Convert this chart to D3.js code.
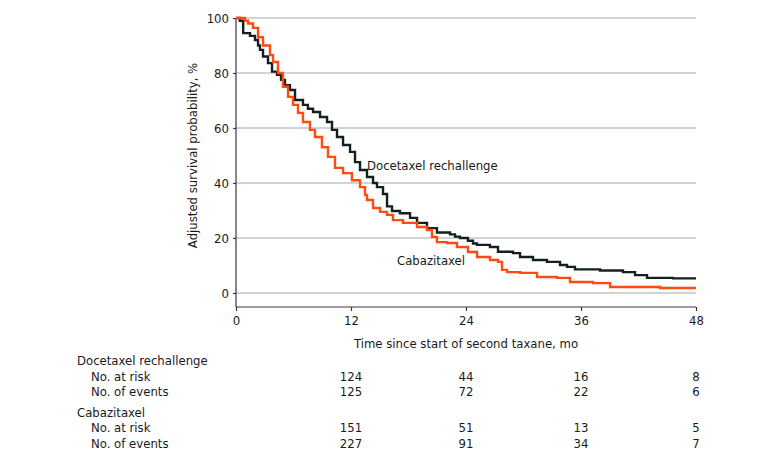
<!DOCTYPE html>
<html>
<head>
<meta charset="utf-8">
<script src="https://cdn.jsdelivr.net/npm/d3@7"></script>
<style>
  body { margin: 0; background: #fff; }
  svg text { font-family: "Liberation Sans Narrow", "DejaVu Sans Condensed", sans-serif; fill: #1a1a1a; }
</style>
</head>
<body>
<svg id="chart" width="780" height="461"></svg>
<script>
// survival curves (months, %)
const docetaxelTime = [0, 0.4, 0.75, 1.46, 1.98, 2.3, 2.5, 2.82, 3.34, 3.76, 4.28, 4.7, 5.11, 5.63, 6.16, 6.99, 7.5, 8.04, 8.77, 9.5, 10.02, 10.54, 11.17, 11.9, 12.42, 12.94, 13.67, 14.3, 14.71, 15.34, 15.76, 16.28, 17.11, 18.16, 18.89, 19.93, 20.97, 22.33, 22.85, 23.37, 24.2, 24.73, 25.15, 26.5, 27.34, 28.9, 29.64, 30.99, 32.45, 33.81, 34.54, 35.37, 37.98, 40.38, 41.64, 42.89, 45.6, 48];
const docetaxelSurv = [100, 99, 94.5, 93.5, 92, 90, 88.4, 86, 83.6, 80.5, 79.3, 77.5, 75.6, 73.8, 70.2, 68.4, 67, 65.8, 64, 62.2, 59.3, 56.7, 53.8, 51.3, 47.6, 44.7, 42.2, 40, 38.5, 36, 31.5, 29.8, 29, 27.3, 25.5, 23.6, 22, 21.3, 20.5, 20, 19, 18, 17.5, 16.7, 15, 14.5, 13.1, 12, 11.3, 10.2, 9.5, 8.6, 8.2, 7.6, 6.5, 5.5, 5.3, 5.3];

const cabazitaxelTime = [0, 0.94, 1.25, 1.77, 2.3, 2.82, 3.55, 3.86, 4.38, 4.9, 5.43, 5.95, 6.47, 6.99, 7.72, 8.24, 8.97, 9.6, 10.33, 11.17, 12.1, 12.94, 13.46, 13.67, 14.3, 15.03, 15.76, 16.38, 17.43, 18.89, 19.93, 20.45, 20.97, 22.02, 23.06, 24.21, 25.15, 26.5, 27.34, 27.76, 28.28, 29.64, 31.41, 33.5, 34.85, 37.25, 39.03, 44.25, 48];
const cabazitaxelSurv = [100, 99, 98, 96.4, 93, 90, 86.5, 84, 80, 75, 71.3, 68.4, 65.5, 62.2, 59.3, 56.7, 53, 49.5, 45.5, 43.6, 41, 38.5, 35.6, 33.8, 30.9, 29.5, 28.4, 26.5, 25.5, 24, 22.9, 20.4, 18.5, 18.2, 16.7, 14.9, 13.1, 12, 11.3, 8.4, 7.6, 7.3, 5.8, 5.5, 4, 3.6, 2.2, 1.8, 1.8];

const xTicks = [0, 12, 24, 36, 48];
const yTicks = [0, 20, 40, 60, 80, 100];

// number at risk table
const tableMonths = [12, 24, 36, 48];
const docetaxelAtRisk = [124, 44, 16, 8];
const docetaxelEvents = [125, 72, 22, 6];
const cabazitaxelAtRisk = [151, 51, 13, 5];
const cabazitaxelEvents = [227, 91, 34, 7];

const fontSize = "13px";
const svg = d3.select("#chart");

const x = d3.scaleLinear().domain([0, 48]).range([236, 696]);
const y = d3.scaleLinear().domain([-5.1, 100]).range([307, 18]);

// gridlines
svg.append("g")
  .selectAll("line")
  .data(yTicks)
  .enter()
  .append("line")
  .attr("x1", x(0))
  .attr("x2", x(48))
  .attr("y1", d => y(d))
  .attr("y2", d => y(d))
  .attr("stroke", "#c4c4c4")
  .attr("stroke-width", 1.3);

// axes
const xAxis = svg.append("g")
  .attr("transform", `translate(0,${y(-5.1)})`)
  .call(d3.axisBottom(x).tickValues(xTicks).tickSize(4).tickPadding(5));
const yAxis = svg.append("g")
  .attr("transform", `translate(${x(0)},0)`)
  .call(d3.axisLeft(y).tickValues(yTicks).tickSize(3).tickPadding(4));

[xAxis, yAxis].forEach(g => {
  g.select(".domain").attr("stroke", "#3a3a3a").attr("stroke-width", 1.2);
  g.selectAll(".tick line").attr("stroke", "#3a3a3a").attr("stroke-width", 1.2);
  g.selectAll(".tick text")
    .style("font-family", '"Liberation Sans Narrow", "DejaVu Sans Condensed", sans-serif')
    .style("font-size", fontSize)
    .attr("fill", "#1a1a1a");
});
xAxis.select(".domain").attr("d", `M${x(0)},0H${x(48)}`);
yAxis.select(".domain").attr("d", `M0,${y(100)}V${y(-5.1)}`);

svg.append("text")
  .attr("x", x(24))
  .attr("y", 343)
  .attr("dy", "0.35em")
  .attr("text-anchor", "middle")
  .style("font-size", fontSize)
  .text("Time since start of second taxane, mo");

svg.append("text")
  .attr("transform", `translate(192,${y(50)}) rotate(-90)`)
  .attr("dy", "0.35em")
  .attr("text-anchor", "middle")
  .style("font-size", fontSize)
  .text("Adjusted survival probability, %");

// curves
const line = d3.line()
  .x(d => x(d[0]))
  .y(d => y(d[1]))
  .curve(d3.curveStepAfter);

const docetaxel = d3.zip(docetaxelTime, docetaxelSurv);
const cabazitaxel = d3.zip(cabazitaxelTime, cabazitaxelSurv);

svg.append("path")
  .datum(docetaxel)
  .attr("d", line)
  .attr("fill", "none")
  .attr("stroke", "#13201f")
  .attr("stroke-width", 2.4);

svg.append("path")
  .datum(cabazitaxel)
  .attr("d", line)
  .attr("fill", "none")
  .attr("stroke", "#ff4a12")
  .attr("stroke-width", 2.4);

svg.append("text")
  .attr("x", 367)
  .attr("y", 165)
  .attr("dy", "0.35em")
  .style("font-size", fontSize)
  .text("Docetaxel rechallenge");

svg.append("text")
  .attr("x", 397)
  .attr("y", 260)
  .attr("dy", "0.35em")
  .style("font-size", fontSize)
  .text("Cabazitaxel");

// risk table
const rows = [
  { label: "Docetaxel rechallenge", indent: false, y: 360, values: null },
  { label: "No. at risk", indent: true, y: 376, values: docetaxelAtRisk },
  { label: "No. of events", indent: true, y: 391, values: docetaxelEvents },
  { label: "Cabazitaxel", indent: false, y: 412, values: null },
  { label: "No. at risk", indent: true, y: 427, values: cabazitaxelAtRisk },
  { label: "No. of events", indent: true, y: 443, values: cabazitaxelEvents }
];

const table = svg.append("g");
rows.forEach(r => {
  table.append("text")
    .attr("x", r.indent ? 91 : 77)
    .attr("y", r.y)
    .attr("dy", "0.35em")
    .style("font-size", fontSize)
    .text(r.label);
  if (r.values) {
    table.selectAll(null)
      .data(r.values)
      .enter()
      .append("text")
      .attr("x", (d, i) => x(tableMonths[i]))
      .attr("y", r.y)
      .attr("dy", "0.35em")
      .attr("text-anchor", "middle")
      .style("font-size", fontSize)
      .text(d => d);
  }
});
</script>
</body>
</html>
